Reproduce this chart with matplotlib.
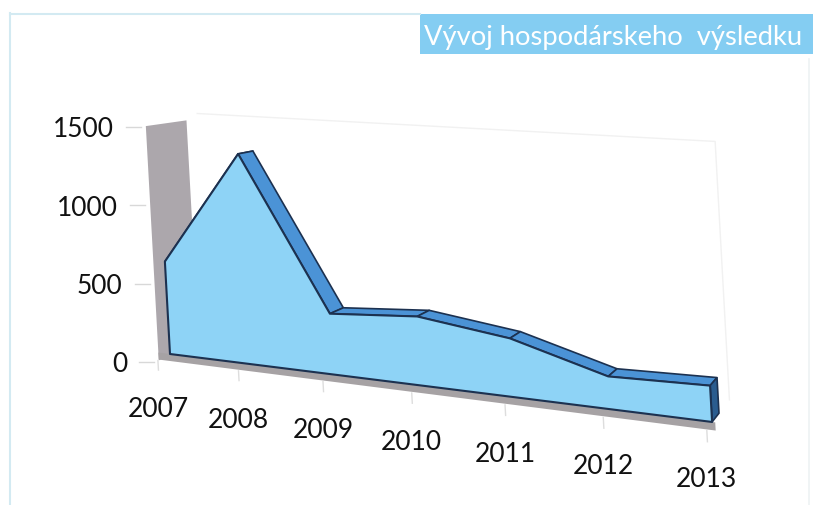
import numpy as np
import matplotlib.pyplot as plt
from matplotlib.transforms import Transform, Affine2D
from matplotlib.patches import Polygon, Rectangle

years = ['2007', '2008', '2009', '2010', '2011', '2012', '2013']
values = [590, 1310, 370, 410, 340, 185, 200]
y_ticks = [0, 500, 1000, 1500]
title = 'Vývoj hospodárskeho  výsledku'

# perspective camera: (index, value, depth, 1) -> pixel (homogeneous)
cam = np.array([[73.97, -0.00867, 19.1, 170.0],
                [1.6, -0.1567, 0.0, 355.0],
                [-0.023, 0.0, 0.0183, 1.0]])


class Plane(Transform):
    """(index, value) on the plane at a given depth -> pixel coords"""
    input_dims = output_dims = 2

    def __init__(self, depth):
        super().__init__()
        self.m = cam[:, [0, 1, 3]].copy()
        self.m[:, 2] += depth * cam[:, 2]

    def transform_non_affine(self, pts):
        pts = np.atleast_2d(np.asarray(pts, float))
        h = np.column_stack([pts, np.ones(len(pts))]) @ self.m.T
        return h[:, :2] / h[:, 2:3]


fig = plt.figure(figsize=(8.13, 5.06), dpi=100)
ax = fig.add_axes([0, 0, 1, 1])
ax.set_xlim(0, 813)
ax.set_ylim(506, 0)
ax.axis('off')

font = ['Lato', 'DejaVu Sans']
n = len(values)
idx = np.arange(n)
front, back, wall_back = Plane(0), Plane(1), Plane(2.6)

# outer frame
ax.plot([10, 420], [14.5, 14.5], color='#d3eaf2', lw=1.5)
ax.plot([10, 10], [14, 506], color='#d3eaf2', lw=1.5)
ax.plot([809, 809], [60, 506], color='#eef2f4', lw=1.2)

# title box
ax.add_patch(Rectangle((420, 15), 400, 40, color='#84cdf2', lw=0))
ax.text(424, 37, title, color='white', fontsize=19.7, family=font,
        ha='left', va='center')

# faint back wall outline
bw = wall_back.transform([[0, 1500], [n - 1, 1500], [n - 1, 0]])
ax.plot(bw[:, 0], bw[:, 1], color='#f1f1f1', lw=1)

# side wall
w0 = front.transform([[-0.15, -50], [-0.15, 1450]])
w1 = wall_back.transform([[-0.15, 1450], [-0.15, -50]])
ax.add_patch(Polygon(np.vstack([w0, w1]), closed=True,
                     facecolor='#aca7ac', edgecolor='none'))

# value axis labels and dashes
lab_tr = front + Affine2D().translate(-43, 10) + ax.transData
for v in y_ticks:
    ax.text(0, v, str(v), transform=lab_tr, ha='right', va='center',
            fontsize=19, family=font, color='#111111')
    d = front.transform([[0, v]])[0]
    ax.plot([d[0] - 31, d[0] - 16], [d[1] + 8, d[1] + 8],
            color='#d8d8d8', lw=1)

# category ticks and labels
cat = Plane(-0.75)
for i, yr in enumerate(years):
    t = cat.transform([[i, -10], [i, -70]])
    ax.plot(t[:, 0], t[:, 1], color='#dddddd', lw=1)
    ax.text(i, 0, yr, transform=cat + Affine2D().translate(0, 50) + ax.transData,
            ha='center', va='center', fontsize=19, family=font, color='#111111')

# floor strip
ax.add_patch(Polygon([[-0.15, 0], [n - 1 + 0.03, 0], [n - 1 + 0.03, -45], [-0.15, -45]],
                     closed=True, transform=front + ax.transData,
                     facecolor='#a6a2a4', edgecolor='none'))

# top ribbon of the 3D area
edge = '#1c3150'
for k in range(n - 1):
    f = front.transform([[k, values[k]], [k + 1, values[k + 1]]])
    b = back.transform([[k + 1, values[k + 1]], [k, values[k]]])
    ax.add_patch(Polygon(np.vstack([f, b]), closed=True, facecolor='#4b93d6',
                         edgecolor=edge, lw=1.2, joinstyle='round'))

# right end cap
f = front.transform([[n - 1, 0], [n - 1, values[-1]]])
b = back.transform([[n - 1, values[-1]], [n - 1, 0]])
ax.add_patch(Polygon(np.vstack([f, b]), closed=True, facecolor='#2a5c8f',
                     edgecolor=edge, lw=1.2))

# front face
face = list(zip(idx, values)) + [(n - 1, 0), (0, 0)]
ax.add_patch(Polygon(face, closed=True, transform=front + ax.transData,
                     facecolor='#8ed3f6', edgecolor=edge, lw=1.5,
                     joinstyle='round'))

fig.savefig('out.png', dpi=100)
